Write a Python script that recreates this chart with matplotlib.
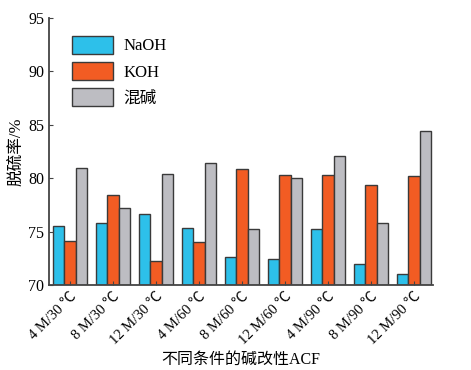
import numpy as np
import matplotlib.pyplot as plt
from matplotlib.patches import Patch

plt.rcParams['font.family'] = ['Liberation Serif', 'Noto Sans CJK SC']

# data
conditions = ["4 M/30 ℃", "8 M/30 ℃", "12 M/30 ℃", "4 M/60 ℃", "8 M/60 ℃",
              "12 M/60 ℃", "4 M/90 ℃", "8 M/90 ℃", "12 M/90 ℃"]
naoh = [75.5, 75.8, 76.6, 75.3, 72.6, 72.4, 75.2, 72.0, 71.0]
koh = [74.1, 78.4, 72.2, 74.0, 80.9, 80.3, 80.3, 79.4, 80.2]
mixed = [81.0, 77.2, 80.4, 81.4, 75.2, 80.0, 82.1, 75.8, 84.4]
names = ["NaOH", "KOH", "混碱"]
colors = ["#2dc0ea", "#f25c23", "#bdbdc2"]

fig = plt.figure(figsize=(4.71, 3.70), dpi=100)
ax = fig.add_axes([0.104, 0.23, 0.815, 0.721])

x = np.arange(len(conditions))
w = 0.27
edge = "#3a3a3a"
for i, (vals, c) in enumerate(zip([naoh, koh, mixed], colors)):
    ax.bar(x + (i - 1) * w, np.array(vals) - 70, bottom=70, width=w,
           color=c, edgecolor=edge, linewidth=1.0)

ax.set_xlim(-0.49, 8.44)
ax.set_ylim(70, 95)
ax.set_yticks([70, 75, 80, 85, 90, 95])
ax.set_xticks(x)
ax.set_xticklabels(conditions, rotation=45, ha="right", rotation_mode="anchor",
                   fontsize=10.5)
ax.tick_params(axis="both", direction="in", length=3, color="#444")
ax.tick_params(axis="y", labelsize=11.5)
for s in ["top", "right"]:
    ax.spines[s].set_visible(False)
for s in ["left", "bottom"]:
    ax.spines[s].set_linewidth(1.3)
    ax.spines[s].set_color("#444")

ax.set_xlabel("不同条件的碱改性ACF", fontsize=11.5, labelpad=3)
ax.set_ylabel("脱硫率/%", fontsize=12, labelpad=2)

handles = [Patch(facecolor=c, edgecolor=edge, linewidth=1.0) for c in colors]
ax.legend(handles, names, loc="upper left", bbox_to_anchor=(0.02, 0.99),
          frameon=False, fontsize=12, handlelength=2.5, handleheight=1.3,
          labelspacing=0.45, handletextpad=0.6)

fig.savefig("out.png", dpi=100)
